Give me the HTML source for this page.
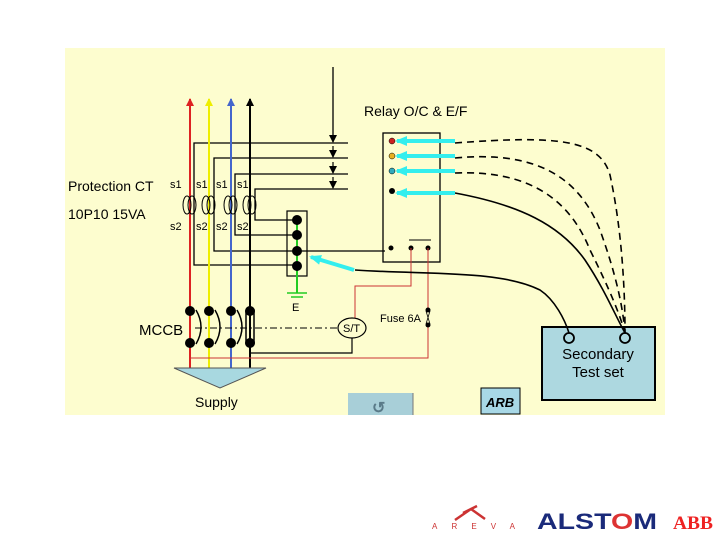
<!DOCTYPE html>
<html><head><style>
body{margin:0;width:720px;height:540px;background:#fff;overflow:hidden;font-family:"Liberation Sans",sans-serif}
svg{position:absolute;left:0;top:0}
</style></head><body>
<svg width="720" height="540" viewBox="0 0 720 540" font-family="Liberation Sans, sans-serif">
<defs>
<marker id="ab" markerWidth="8" markerHeight="8" refX="7" refY="4" orient="auto" markerUnits="userSpaceOnUse"><path d="M0,0 L8,4 L0,8 z" fill="#000"/></marker>
<marker id="ar" markerWidth="8" markerHeight="8" refX="7" refY="4" orient="auto" markerUnits="userSpaceOnUse"><path d="M0,0 L8,4 L0,8 z" fill="#d22"/></marker>
<marker id="ay" markerWidth="8" markerHeight="8" refX="7" refY="4" orient="auto" markerUnits="userSpaceOnUse"><path d="M0,0 L8,4 L0,8 z" fill="#ee0"/></marker>
<marker id="abl" markerWidth="8" markerHeight="8" refX="7" refY="4" orient="auto" markerUnits="userSpaceOnUse"><path d="M0,0 L8,4 L0,8 z" fill="#46c"/></marker>
<marker id="ac" markerWidth="12" markerHeight="10" refX="10" refY="5" orient="auto" markerUnits="userSpaceOnUse"><path d="M0,0 L12,5 L0,10 z" fill="#3ee"/></marker>
</defs>
<rect x="65" y="48" width="600" height="367" fill="#fdfdcf"/>
<line x1="333" y1="67" x2="333" y2="142" stroke="#000" stroke-width="1.3" marker-end="url(#ab)"/>
<g stroke="#000" stroke-width="1.2">
<line x1="333" y1="146" x2="333" y2="157" marker-end="url(#ab)"/>
<line x1="333" y1="162" x2="333" y2="173" marker-end="url(#ab)"/>
<line x1="333" y1="177" x2="333" y2="188" marker-end="url(#ab)"/>
</g>
<g fill="none" stroke="#000" stroke-width="1.3">
<path d="M348,143 H194 V265 H297"/>
<path d="M348,158 H214 V251 H385"/>
<path d="M348,174 H235 V235 H297"/>
<path d="M348,189 H255 V220 H297"/>
</g>
<line x1="190" y1="370" x2="190" y2="99" stroke="#d22" stroke-width="2" marker-end="url(#ar)"/>
<line x1="209" y1="370" x2="209" y2="99" stroke="#ee0" stroke-width="2" marker-end="url(#ay)"/>
<line x1="231" y1="370" x2="231" y2="99" stroke="#46c" stroke-width="2" marker-end="url(#abl)"/>
<line x1="250" y1="370" x2="250" y2="99" stroke="#000" stroke-width="2" marker-end="url(#ab)"/>
<g fill="none" stroke="#000" stroke-width="1">
<ellipse cx="187" cy="205" rx="4" ry="9"/><ellipse cx="192" cy="205" rx="4" ry="9"/>
<ellipse cx="206" cy="205" rx="4" ry="9"/><ellipse cx="211" cy="205" rx="4" ry="9"/>
<ellipse cx="228" cy="205" rx="4" ry="9"/><ellipse cx="233" cy="205" rx="4" ry="9"/>
<ellipse cx="247" cy="205" rx="4" ry="9"/><ellipse cx="252" cy="205" rx="4" ry="9"/>
</g>
<g font-size="11" fill="#000">
<text x="170" y="188">s1</text><text x="196" y="188">s1</text><text x="216" y="188">s1</text><text x="237" y="188">s1</text>
<text x="170" y="230">s2</text><text x="196" y="230">s2</text><text x="216" y="230">s2</text><text x="237" y="230">s2</text>
</g>
<text x="68" y="191" font-size="14">Protection CT</text>
<text x="68" y="219" font-size="14">10P10 15VA</text>
<rect x="287" y="211" width="20" height="65" fill="none" stroke="#000" stroke-width="1.2"/>
<line x1="297" y1="220" x2="297" y2="293" stroke="#2c2" stroke-width="2"/>
<line x1="287" y1="293" x2="307" y2="293" stroke="#2c2" stroke-width="1.5"/>
<line x1="291" y1="297" x2="303" y2="297" stroke="#2c2" stroke-width="1.5"/>
<g fill="#000"><circle cx="297" cy="220" r="5"/><circle cx="297" cy="235" r="5"/><circle cx="297" cy="251" r="5"/><circle cx="297" cy="266" r="5"/></g>
<text x="292" y="311" font-size="11">E</text>
<text x="364" y="116" font-size="14">Relay O/C &amp; E/F</text>
<rect x="383" y="133" width="57" height="129" fill="none" stroke="#000" stroke-width="1.3"/>
<circle cx="392" cy="141" r="3" fill="#c22" stroke="#000" stroke-width=".5"/>
<circle cx="392" cy="156" r="3" fill="#e8b020" stroke="#000" stroke-width=".5"/>
<circle cx="392" cy="171" r="3" fill="#3ab" stroke="#000" stroke-width=".5"/>
<circle cx="392" cy="191" r="3" fill="#000"/>
<g fill="#000"><circle cx="391" cy="248" r="2.5"/><circle cx="411" cy="248" r="2.5"/><circle cx="428" cy="248" r="2.5"/></g>
<line x1="409" y1="240" x2="431" y2="240" stroke="#000"/>
<g fill="none" stroke="#c33" stroke-width="1">
<path d="M411,248 V286 H355 V318"/>
<path d="M428,248 V310 M428,325 V358 H190"/>
</g>
<circle cx="428" cy="310" r="2.5"/><circle cx="428" cy="325" r="2.5"/>
<path d="M426,311 L430,324 M430,311 L426,324" stroke="#000" stroke-width=".8"/>
<text x="380" y="322" font-size="11">Fuse 6A</text>
<line x1="195" y1="328" x2="338" y2="328" stroke="#000" stroke-width="1" stroke-dasharray="7,3,2,3"/>
<path d="M352,338 V353 H250" fill="none" stroke="#000" stroke-width="1.2"/>
<ellipse cx="352" cy="328" rx="14" ry="10" fill="#fdfdcf" stroke="#000" stroke-width="1.2"/>
<text x="343" y="332" font-size="11">S/T</text>
<g fill="#000"><circle cx="190" cy="311" r="5"/><circle cx="209" cy="311" r="5"/><circle cx="231" cy="311" r="5"/><circle cx="250" cy="311" r="5"/>
<circle cx="190" cy="343" r="5"/><circle cx="209" cy="343" r="5"/><circle cx="231" cy="343" r="5"/><circle cx="250" cy="343" r="5"/></g>
<g fill="none" stroke="#000" stroke-width="1.5">
<path d="M196,310 Q206,327 196,344"/><path d="M215,310 Q225,327 215,344"/><path d="M237,310 Q247,327 237,344"/>
<rect x="246" y="311" width="8" height="32"/>
</g>
<text x="139" y="335" font-size="15">MCCB</text>
<polygon points="174,368 266,368 220,388" fill="#a8d8e0" stroke="#555"/>
<text x="195" y="407" font-size="14">Supply</text>
<rect x="348" y="393" width="65" height="22" fill="#a8cfd8"/>
<line x1="413" y1="393" x2="413" y2="415" stroke="#777"/>
<text x="372" y="413" font-size="16" font-weight="bold" fill="#5a7a88">↺</text>
<rect x="481" y="388" width="39" height="26" fill="#a8d8e6" stroke="#000"/>
<text x="486" y="407" font-size="13" font-weight="bold" font-style="italic">ARB</text>
<rect x="542" y="327" width="113" height="73" fill="#add8e0" stroke="#000" stroke-width="2"/>
<text x="598" y="359" font-size="15" text-anchor="middle">Secondary</text>
<text x="598" y="377" font-size="15" text-anchor="middle">Test set</text>
<g fill="none" stroke="#000" stroke-width="1.6">
<path d="M455,143 C560,135 600,140 610,175 C622,230 625,290 625,333" stroke-dasharray="7,5"/>
<path d="M455,158 C540,150 580,180 600,230 C618,280 623,310 625,333" stroke-dasharray="7,5"/>
<path d="M455,173 C530,170 570,200 590,250 C610,290 620,315 625,333" stroke-dasharray="7,5"/>
<path d="M455,193 C520,205 560,225 585,260 C605,290 615,315 625,333"/>
<path d="M355,270 C430,275 500,270 540,290 C555,300 565,320 569,333"/>
</g>
<circle cx="569" cy="338" r="5" fill="#add8e0" stroke="#000" stroke-width="1.8"/>
<circle cx="625" cy="338" r="5" fill="#add8e0" stroke="#000" stroke-width="1.8"/>
<g stroke="#3ee" stroke-width="4">
<line x1="455" y1="141" x2="397" y2="141" marker-end="url(#ac)"/>
<line x1="455" y1="156" x2="397" y2="156" marker-end="url(#ac)"/>
<line x1="455" y1="171" x2="397" y2="171" marker-end="url(#ac)"/>
<line x1="455" y1="193" x2="397" y2="193" marker-end="url(#ac)"/>
<line x1="354" y1="270" x2="311" y2="257" marker-end="url(#ac)"/>
</g>
<path d="M455,520 L471,509 L485,519 M463,513 L477,506" fill="none" stroke="#c33" stroke-width="2.5"/>
<text x="432" y="529" font-size="8" fill="#c33" textLength="83" lengthAdjust="spacing">AREVA</text>
<text x="537" y="529" font-size="22" font-weight="bold" fill="#1a2a7a" textLength="120" lengthAdjust="spacingAndGlyphs">ALST<tspan fill="#d33">O</tspan>M</text>
<text x="673" y="529" font-size="19" font-weight="bold" fill="#e22" font-family="Liberation Serif, serif" textLength="40" lengthAdjust="spacingAndGlyphs">ABB</text>
</svg>
</body></html>
